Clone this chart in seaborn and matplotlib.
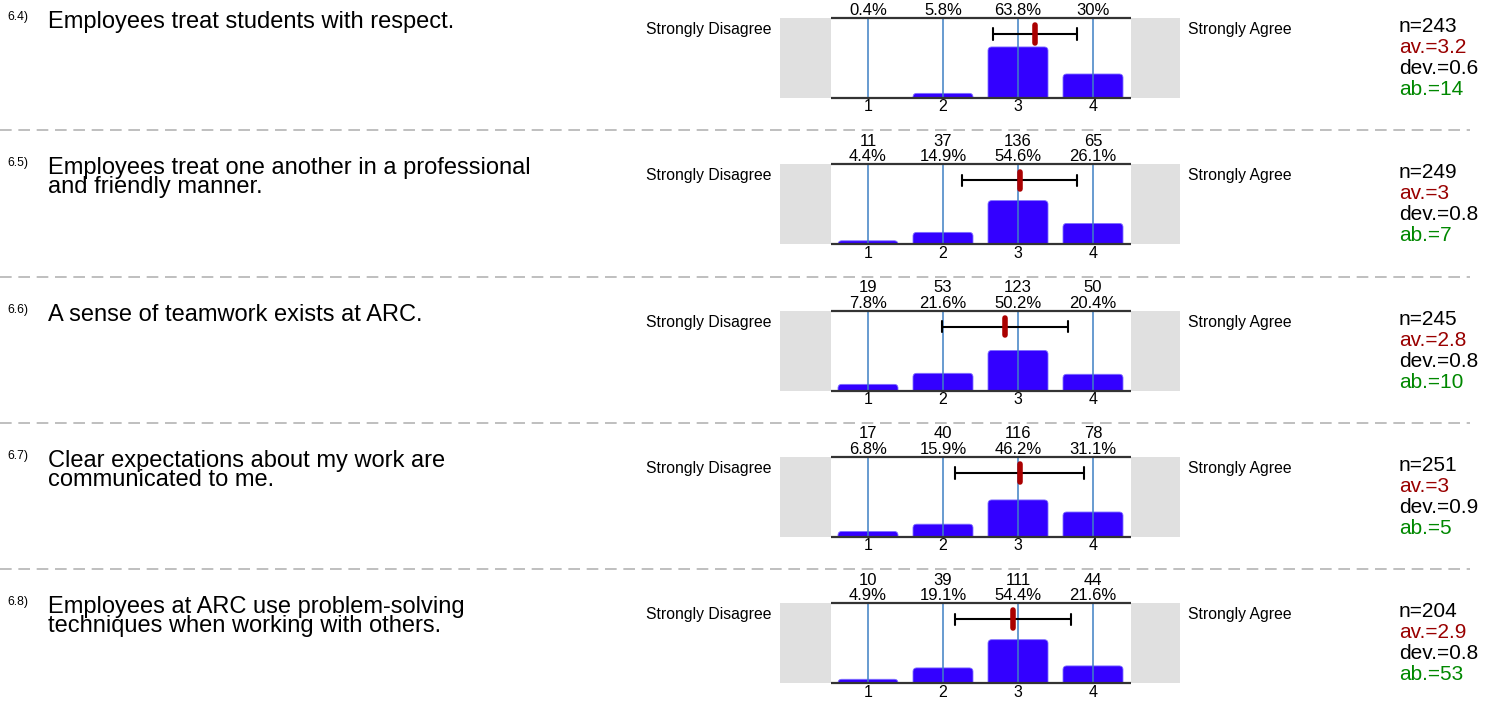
import numpy as np
import pandas as pd
import matplotlib.pyplot as plt
import seaborn as sns
from matplotlib.lines import Line2D
from matplotlib.patches import FancyBboxPatch, BoxStyle

sns.set_style("white")
plt.rcParams["font.family"] = ["Liberation Sans", "DejaVu Sans"]
plt.rcParams["text.color"] = "black"
plt.rcParams["xtick.color"] = "black"
plt.rcParams["xtick.labelcolor"] = "black"

# survey items
numbers = ["6.4)", "6.5)", "6.6)", "6.7)", "6.8)"]
questions = [
    "Employees treat students with respect.",
    "Employees treat one another in a professional\nand friendly manner.",
    "A sense of teamwork exists at ARC.",
    "Clear expectations about my work are\ncommunicated to me.",
    "Employees at ARC use problem-solving\ntechniques when working with others.",
]
scale = ["1", "2", "3", "4"]
pcts = [
    [0.4, 5.8, 63.8, 30],
    [4.4, 14.9, 54.6, 26.1],
    [7.8, 21.6, 50.2, 20.4],
    [6.8, 15.9, 46.2, 31.1],
    [4.9, 19.1, 54.4, 21.6],
]
# counts of the first item are cut off at the top of the picture
counts = [
    None,
    [11, 37, 136, 65],
    [19, 53, 123, 50],
    [17, 40, 116, 78],
    [10, 39, 111, 44],
]
n_vals = [243, 249, 245, 251, 204]
means = [3.23, 3.02, 2.83, 3.02, 2.93]
devs = [0.56, 0.77, 0.84, 0.86, 0.77]
av_labels = ["3.2", "3", "2.8", "3", "2.9"]
dev_labels = ["0.6", "0.8", "0.8", "0.9", "0.8"]
ab_vals = [14, 7, 10, 5, 53]

W, H = 1497, 705
fig = plt.figure(figsize=(W / 100, H / 100), dpi=100)


def fx(px):
    return px / W


def fy(py):
    return 1 - py / H


bar_col = "#3300ff"
x_lo = (780 - 868) / 75
x_hi = 3 + (1180 - 1093) / 75

for i in range(len(questions)):
    T = 18 + i * 146.3

    # separator
    if i > 0:
        fig.add_artist(Line2D([0, fx(1470)], [fy(T - 34)] * 2, color="#b4b4b4",
                              lw=1.2, linestyle=(0, (7, 4))))

    # question (va=baseline anchors the last line)
    n_lines = questions[i].count("\n") + 1
    fig.text(fx(7), fy(T + 2), numbers[i], fontsize=8.8, va="baseline", ha="left")
    fig.text(fx(48), fy(T + 10 + 19 * (n_lines - 1)), questions[i], fontsize=17,
             va="baseline", ha="left", linespacing=0.83)

    fig.text(fx(772), fy(T + 16), "Strongly Disagree", fontsize=11.3, va="baseline", ha="right")
    fig.text(fx(1188), fy(T + 16), "Strongly Agree", fontsize=11.3, va="baseline", ha="left")

    # stats
    sx = 1399
    fig.text(fx(sx), fy(T + 14), f"n={n_vals[i]}", fontsize=15, va="baseline", color="black")
    fig.text(fx(sx), fy(T + 35), f"av.={av_labels[i]}", fontsize=15, va="baseline", color="#990000")
    fig.text(fx(sx), fy(T + 56), f"dev.={dev_labels[i]}", fontsize=15, va="baseline", color="black")
    fig.text(fx(sx), fy(T + 77), f"ab.={ab_vals[i]}", fontsize=15, va="baseline", color="#008800")

    # plot area
    ax = fig.add_axes([fx(780), fy(T + 80), 400 / W, 80 / H])
    df = pd.DataFrame({"answer": scale, "pct": pcts[i]})
    sns.barplot(data=df, x="answer", y="pct", order=scale, color=bar_col,
                width=0.8, saturation=1, ax=ax, zorder=2)

    # rounded tops
    for p in list(ax.patches):
        x0, w, h = p.get_x(), p.get_width(), p.get_height()
        p.set_visible(False)
        rb = FancyBboxPatch((x0, -5), w, h + 5,
                            boxstyle=BoxStyle.Round(pad=0, rounding_size=0.05),
                            mutation_aspect=94, facecolor=bar_col,
                            edgecolor="#7f70ff", lw=0.6, zorder=2)
        ax.add_patch(rb)

    ax.set_xlim(x_lo, x_hi)
    ax.set_ylim(0, 100)
    ax.axvspan(x_lo, -0.5, color="#e0e0e0", zorder=0, lw=0)
    ax.axvspan(3.5, x_hi, color="#e0e0e0", zorder=0, lw=0)
    for j in range(4):
        ax.axvline(j, color="#3f80c4", lw=1.1, zorder=3)
    ax.hlines([0, 100], -0.5, 3.5, color="#333333", lw=1.6, zorder=4, clip_on=False)

    # mean +- deviation
    lo, hi = means[i] - devs[i] - 1, means[i] + devs[i] - 1
    ax.plot([lo, hi], [80, 80], color="black", lw=1.5, zorder=5, solid_capstyle="butt")
    ax.plot([lo, lo], [73, 87], color="black", lw=1.5, zorder=5)
    ax.plot([hi, hi], [73, 87], color="black", lw=1.5, zorder=5)
    ax.plot([means[i] - 1] * 2, [69, 91], color="#aa0000", lw=4,
            solid_capstyle="round", zorder=6)

    # labels above the bars
    for j in range(4):
        xp = fx(868 + j * 75)
        fig.text(xp, fy(T - 3), f"{pcts[i][j]:g}%", fontsize=12, ha="center", va="baseline")
        if counts[i] is not None:
            fig.text(xp, fy(T - 18.5), str(counts[i][j]), fontsize=12, ha="center", va="baseline")

    ax.set_xticks(range(4))
    ax.set_xticklabels(scale, fontsize=11.5)
    ax.tick_params(axis="x", length=0, pad=1)
    ax.set_yticks([])
    ax.set_xlabel("")
    ax.set_ylabel("")
    for s in ax.spines.values():
        s.set_visible(False)
    ax.patch.set_alpha(0)

fig.savefig("out.png", dpi=100)
